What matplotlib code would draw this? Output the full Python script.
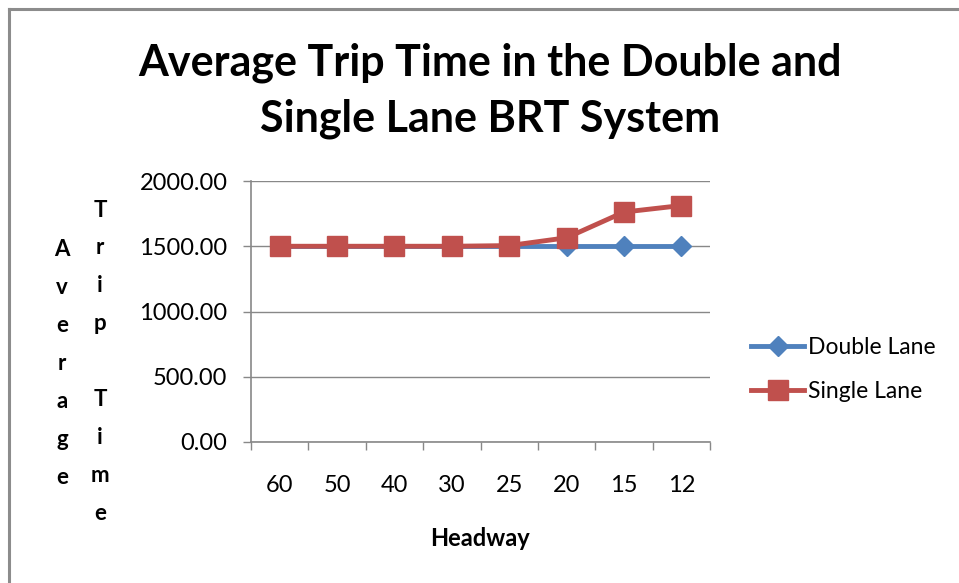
import numpy as np
import matplotlib
matplotlib.use('Agg')
import matplotlib.pyplot as plt
from matplotlib.lines import Line2D

plt.rcParams['font.family'] = ['Lato', 'DejaVu Sans']

# chart data
headway = ['60', '50', '40', '30', '25', '20', '15', '12']
double_lane = [1500, 1500, 1500, 1500, 1500, 1500, 1500, 1500]
single_lane = [1500, 1500, 1500, 1500, 1505, 1565, 1762, 1812]
y_ticks = [0, 500, 1000, 1500, 2000]

BLUE = '#4F81BD'
RED = '#C0504D'
GRID = '#888888'

W, H = 959, 583
fig = plt.figure(figsize=(W / 100, H / 100), dpi=100)
ax = fig.add_axes([251 / W, 1 - 442 / H, (710 - 251) / W, (442 - 181) / H])

x = np.arange(len(headway))
ax.plot(x, double_lane, color=BLUE, lw=3.5, marker='D', ms=10.5, mec=BLUE, mfc=BLUE, label='Double Lane', zorder=3)
ax.plot(x, single_lane, color=RED, lw=3.5, marker='s', ms=14, mec=RED, mfc=RED, label='Single Lane', zorder=4)

ax.set_xlim(-0.5, len(headway) - 0.5)
ax.set_ylim(0, 2000)
ax.set_yticks(y_ticks)
ax.set_yticklabels(['%.2f' % v for v in y_ticks])
ax.set_xticks(x)
ax.set_xticklabels(headway)
ax.set_xticks(np.arange(len(headway) + 1) - 0.5, minor=True)
ax.tick_params(axis='x', which='major', length=0, pad=24, labelsize=17, colors='black')
ax.tick_params(axis='x', which='minor', length=6, width=1, color=GRID, direction='out')
ax.tick_params(axis='y', length=6, width=1, color=GRID, direction='out', pad=11, labelsize=17)
ax.yaxis.grid(True, color=GRID, lw=1)
ax.set_axisbelow(True)
for s in ['top', 'right']:
    ax.spines[s].set_visible(False)
for s in ['left', 'bottom']:
    ax.spines[s].set_color(GRID)
    ax.spines[s].set_linewidth(1.2)

# title
fig.text(490 / W, 1 - 63 / H, 'Average Trip Time in the Double and', ha='center', va='center',
         fontsize=31, fontweight='bold')
fig.text(490 / W, 1 - 119 / H, 'Single Lane BRT System', ha='center', va='center',
         fontsize=31, fontweight='bold')

# stacked y label like excel, one letter per row
for col_x, top_y, word in [(62, 250, 'Average'), (100, 210, 'Trip Time')]:
    for i, ch in enumerate(word):
        fig.text(col_x / W, 1 - (top_y + 38 * i) / H, ch, ha='center', va='center',
                 fontsize=16, fontweight='bold')

fig.text(480 / W, 1 - 538 / H, 'Headway', ha='center', va='center', fontsize=17, fontweight='bold')

# legend
ax.legend(loc='upper left', bbox_to_anchor=(742 / W, 1 - 328 / H), bbox_transform=fig.transFigure,
          frameon=False, fontsize=16.5, handlelength=2.3, handletextpad=0.2, labelspacing=1.0,
          borderaxespad=0)

# outer border (top and left edges visible)
fig.add_artist(Line2D([9 / W, 1], [1 - 9 / H, 1 - 9 / H], color='#8c8c8c', lw=2.2))
fig.add_artist(Line2D([9 / W, 9 / W], [0, 1 - 9 / H], color='#8c8c8c', lw=2.2))

fig.savefig('out.png', dpi=100)
